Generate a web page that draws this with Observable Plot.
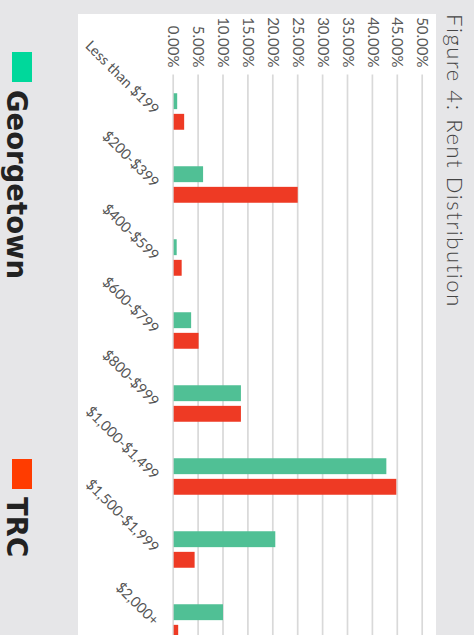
<!DOCTYPE html>
<html><head><meta charset="utf-8">
<script src="https://cdn.jsdelivr.net/npm/d3@7"></script>
<script src="https://cdn.jsdelivr.net/npm/@observablehq/plot@0.6"></script>
<style>
html,body{margin:0;padding:0;width:474px;height:635px;overflow:hidden;background:#e6e6e8;}
#fig{position:absolute;left:0;top:0;width:700px;height:474px;transform-origin:0 0;transform:translateX(474px) rotate(90deg);}
#panel{position:absolute;left:14px;top:38px;width:700px;height:358px;background:#fff;}
#title{position:absolute;left:14px;top:8px;font-family:Lato,sans-serif;font-weight:300;font-size:22px;letter-spacing:1.6px;color:#444;white-space:nowrap;line-height:1;}
#chart{position:absolute;left:0;top:0;}
.sw{position:absolute;width:30px;height:20px;top:442px;}
.lt{position:absolute;top:444px;font-family:"DejaVu Sans",sans-serif;font-weight:bold;font-size:27.5px;line-height:1;color:#222;white-space:nowrap;}
</style></head>
<body>
<div id="fig">
  <div id="panel"></div>
  <div id="title"></div>
  <div id="chart"></div>
  <div id="legend"></div>
</div>
<script>
const title = "Figure 4: Rent Distribution";
const categories = ["Less than $199","$200-$399","$400-$599","$600-$799","$800-$999","$1,000-$1,499","$1,500-$1,999","$2,000+"];
const seriesNames = ["Georgetown","TRC"];
const georgetown = [0.007, 0.059, 0.006, 0.035, 0.135, 0.427, 0.204, 0.099];
const trc = [0.021, 0.249, 0.016, 0.050, 0.135, 0.447, 0.042, 0.009];
const yTicks = [0,0.05,0.10,0.15,0.20,0.25,0.30,0.35,0.40,0.45,0.50];
const barColors = ["#50c095","#ee3a24"];
const legendColors = ["#00d89b","#ff3c00"];

document.getElementById("title").textContent = title;

const gData = categories.map((c,i)=>({category:c, value:georgetown[i]}));
const tData = categories.map((c,i)=>({category:c, value:trc[i]}));

const band = 73.1;
const chart = Plot.plot({
  width: 660, height: 474,
  marginLeft: 74.5, marginRight: 0.5, marginTop: 51.3, marginBottom: 173.7,
  style: {background: "transparent", fontFamily: "Lato, sans-serif"},
  x: {type: "band", domain: categories, padding: 0},
  y: {domain: [0, 0.5]},
  marks: [
    Plot.gridY(yTicks, {stroke: "#d9d9d9", strokeOpacity: 1, strokeWidth: 1.7}),
    Plot.barY(gData, {x: "category", y: "value", fill: barColors[0], insetLeft: 18.25, insetRight: band - 34.25}),
    Plot.barY(tData, {x: "category", y: "value", fill: barColors[1], insetLeft: 38.85, insetRight: band - 54.85}),
    Plot.axisY(yTicks, {tickSize: 0, tickPadding: 7.5, tickFormat: d3.format(".2%"), fontSize: 15, fill: "#595959", label: null}),
    Plot.axisX({tickSize: 0, tickPadding: 17, tickRotate: -45, fontSize: 14.5, fill: "#555", label: null})
  ]
});
document.getElementById("chart").appendChild(chart);

const legend = document.getElementById("legend");
const legendX = [[52, 90], [459, 497]];
seriesNames.forEach((n,i)=>{
  const s = document.createElement("div"); s.className = "sw";
  s.style.left = legendX[i][0] + "px"; s.style.background = legendColors[i];
  const t = document.createElement("div"); t.className = "lt";
  t.style.left = legendX[i][1] + "px"; t.textContent = n;
  legend.appendChild(s); legend.appendChild(t);
});
</script>
</body></html>
